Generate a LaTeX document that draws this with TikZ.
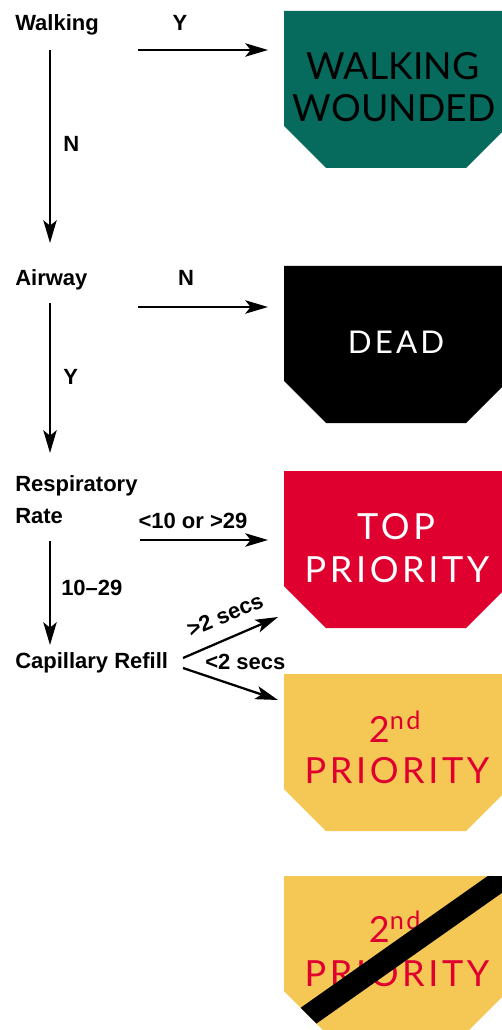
\documentclass[tikz,border=0pt]{standalone}
\usepackage{fontspec}
\setmainfont{Liberation Sans}
\newfontfamily\cardfont[LetterSpace=10]{Lato}
\newfontfamily\woundfont{Lato}
\usetikzlibrary{arrows.meta}

\definecolor{walkgreen}{RGB}{6,106,93}
\definecolor{topred}{RGB}{223,0,48}
\definecolor{secondyellow}{RGB}{245,200,85}

\tikzset{
  lbl/.style={font=\fontsize{16.5}{24}\selectfont\bfseries, inner sep=0pt},
  flow/.style={line width=1.7pt, -{Stealth[length=17pt,width=10pt,inset=4pt]}},
  cardtxt/.style={font=\cardfont\fontsize{27}{32}\selectfont, inner sep=0pt, anchor=base}
}

\begin{document}
\begin{tikzpicture}[x=0.75pt,y=0.75pt,yscale=-1,xscale=1]
                \clip (0,0) rectangle (502,1030);
                
                %Shape: Card [id:walking wounded]
                \fill [walkgreen] (284,11) -- (508,11) -- (508,126) -- (466,168) -- (326,168) -- (284,126) -- cycle ;
                \node [cardtxt, font=\woundfont\fontsize{28}{32}\selectfont] (ww1) at (393,80) {WALKING};
                \node [cardtxt, font=\woundfont\fontsize{28}{32}\selectfont] (ww2) at (394,122) {WOUNDED};
                %Shape: Card [id:dead]
                \fill [black] (284,266) -- (508,266) -- (508,381) -- (466,423) -- (326,423) -- (284,381) -- cycle ;
                \node [cardtxt, text=white, font=\cardfont\fontsize{23.5}{28}\selectfont] (dead) at (396,353) {DEAD};
                %Shape: Card [id:top priority]
                \fill [topred] (284,471) -- (508,471) -- (508,586) -- (466,628) -- (326,628) -- (284,586) -- cycle ;
                \node [cardtxt, text=white] (top1) at (396,539) {TOP};
                \node [cardtxt, text=white] (top2) at (397,582) {PRIORITY};
                %Shape: Card [id:second priority]
                \fill [secondyellow] (284,674) -- (508,674) -- (508,789) -- (466,831) -- (326,831) -- (284,789) -- cycle ;
                \node [cardtxt, text=topred] (snd1) at (395,742) {2\textsuperscript{nd}};
                \node [cardtxt, text=topred] (snd2) at (397,783) {PRIORITY};
                %Shape: Card [id:second priority, crossed]
                \fill [secondyellow] (284,876) -- (508,876) -- (508,991) -- (466,1033) -- (326,1033) -- (284,991) -- cycle ;
                \node [cardtxt, text=topred] (exp1) at (395,942) {2\textsuperscript{nd}};
                \node [cardtxt, text=topred] (exp2) at (397,986) {PRIORITY};
                \begin{scope}
                \clip (284,876) -- (508,876) -- (508,991) -- (466,1033) -- (326,1033) -- (284,991) -- cycle ;
                \draw [line width=16.5pt] (290,1028.7) -- (530,859.7) ;
                \end{scope}
                
                % Text Node
                \node [lbl, anchor=base west] (walk) at (15,31) {Walking};
                \node [lbl, anchor=base west] (air) at (15,286) {Airway};
                \node [lbl, anchor=north west, align=left] (resp) at (15,475) {Respiratory\\Rate};
                \node [lbl, anchor=base west] (cap) at (15,668) {Capillary Refill};
                
                %Straight Lines [id:walking]
                \coordinate (walkY) at (138,50);
                \coordinate (wwIn) at (268,50);
                \coordinate (walkN) at (50,50);
                \coordinate (airIn) at (50,243);
                \draw [flow] (walkY) -- (wwIn) ;
                \draw [flow] (walkN) -- (airIn) ;
                \node [lbl, anchor=base] (lblY1) at (180,31) {Y};
                \node [lbl, anchor=base west] (lblN1) at (63,152) {N};
                
                %Straight Lines [id:airway]
                \coordinate (airN) at (138,307);
                \coordinate (deadIn) at (268,307);
                \coordinate (airY) at (50,303);
                \coordinate (respIn) at (50,453);
                \draw [flow] (airN) -- (deadIn) ;
                \draw [flow] (airY) -- (respIn) ;
                \node [lbl, anchor=base] (lblN2) at (186,286) {N};
                \node [lbl, anchor=base west] (lblY2) at (63,384) {Y};
                
                %Straight Lines [id:respiratory rate]
                \coordinate (respOut) at (140,540);
                \coordinate (topIn) at (268,540);
                \coordinate (respOk) at (50,541);
                \coordinate (capIn) at (50,645);
                \draw [flow] (respOut) -- (topIn) ;
                \draw [flow] (respOk) -- (capIn) ;
                \node [lbl, anchor=base] (lblRate) at (193,528) {<10 or >29};
                \node [lbl, anchor=base west] (lblOk) at (61,595) {10–29};
                
                %Straight Lines [id:capillary refill]
                \coordinate (capHi) at (183,658);
                \coordinate (topIn2) at (278,617);
                \coordinate (capLo) at (183,668);
                \coordinate (sndIn) at (278,700);
                \draw [flow] (capHi) -- (topIn2) ;
                \draw [flow] (capLo) -- (sndIn) ;
                \node [lbl, anchor=base, rotate=23] (lblSlow) at (228,622) {>2 secs};
                \node [lbl, anchor=base west] (lblFast) at (205,669) {<2 secs};
                
                \end{tikzpicture}
\end{document}
